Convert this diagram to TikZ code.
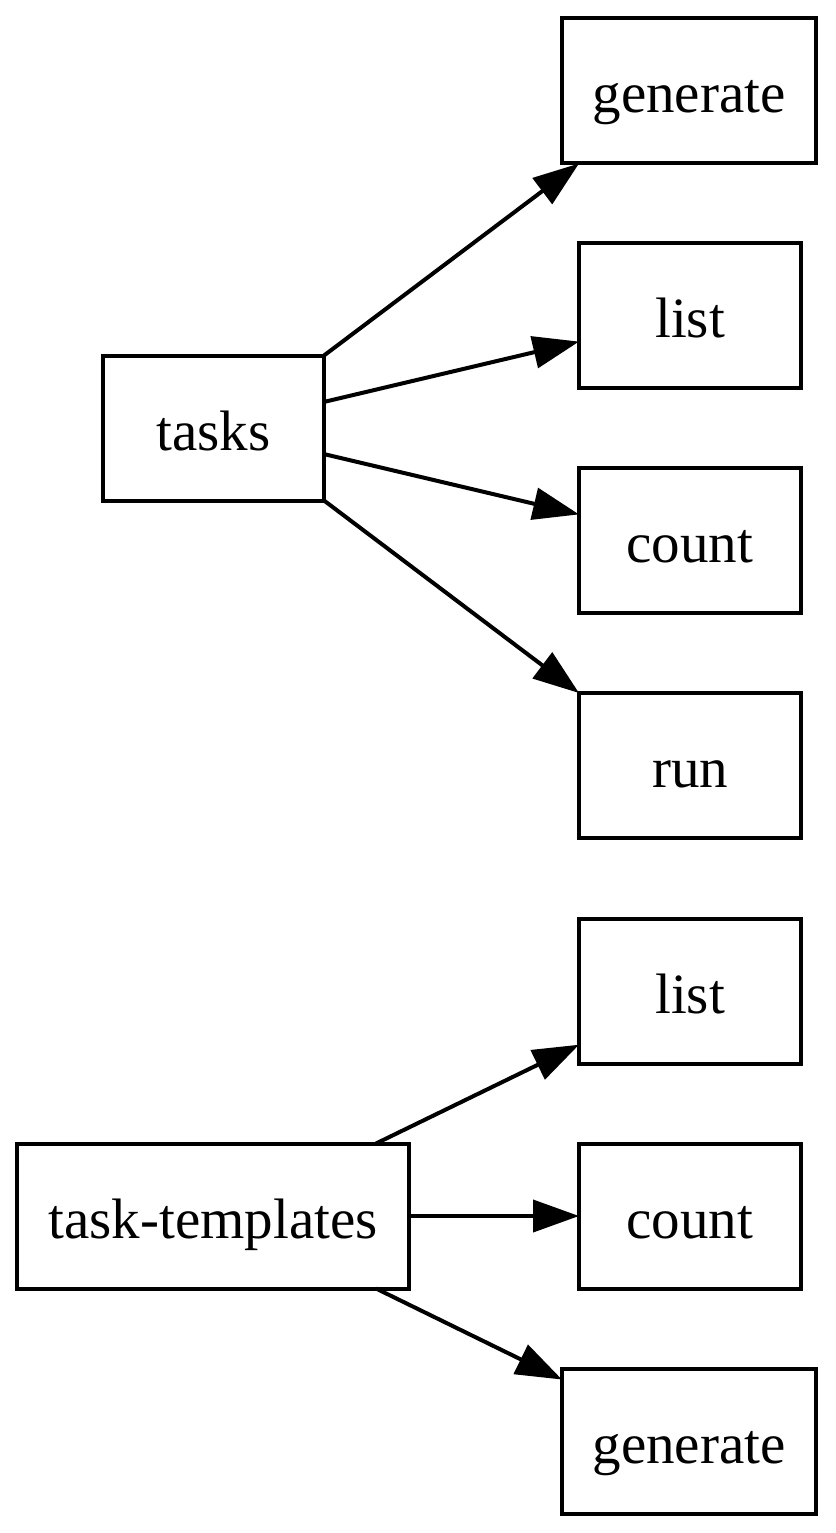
\documentclass[tikz,border=0pt]{standalone}
\usepackage{fontspec}
\setmainfont{Liberation Serif}
\usetikzlibrary{arrows.meta}
\begin{document}
\begin{tikzpicture}[x=1pt,y=-1pt,
  box/.style={draw, line width=4pt, rectangle, inner sep=0pt, outer sep=0pt,
    minimum height=145pt, text height=50pt, text depth=6pt,
    font=\fontsize{57}{68}\selectfont},
  conn/.style={line width=4pt, -{Triangle[length=46pt,width=32pt]}}]
\useasboundingbox (0,0) rectangle (835,1533);
\node[box, minimum width=254pt] (gen1) at (689,91) {generate};
\node[box, minimum width=222pt] (list1) at (690,315.5) {list};
\node[box, minimum width=222pt] (count1) at (690,540.5) {count};
\node[box, minimum width=222pt] (run) at (690,765.5) {run};
\node[box, minimum width=221pt] (tasks) at (213.5,428) {tasks};
\node[box, minimum width=222pt] (list2) at (690,991) {list};
\node[box, minimum width=222pt] (count2) at (690,1216) {count};
\node[box, minimum width=254pt] (gen2) at (689,1441.5) {generate};
\node[box, minimum width=392pt] (tt) at (213,1216) {task-templates};
\draw[conn] (tasks.north east) -- ([xshift=17pt]gen1.south west);
\draw[conn] (tasks) -- (list1);
\draw[conn] (tasks) -- (count1);
\draw[conn] (tasks.south east) -- (run.north west);
\draw[conn] ([xshift=-33pt]tt.north east) -- (list2);
\draw[conn] (tt) -- (count2);
\draw[conn] ([xshift=-33pt]tt.south east) -- (gen2);
\end{tikzpicture}
\end{document}
